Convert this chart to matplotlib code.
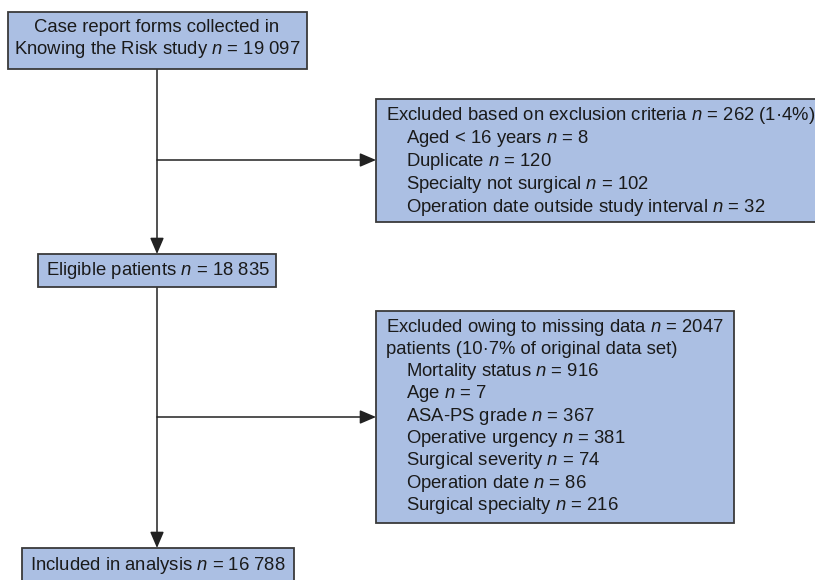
import matplotlib
matplotlib.use("Agg")
import matplotlib.pyplot as plt
from matplotlib.patches import Rectangle

plt.rcParams['font.family'] = ['Liberation Sans', 'DejaVu Sans']
plt.rcParams['mathtext.fontset'] = 'custom'
plt.rcParams['mathtext.it'] = 'Liberation Sans:italic'
plt.rcParams['mathtext.rm'] = 'Liberation Sans'

# ---- data ----
top_lines = ["Case report forms collected in", "Knowing the Risk study $n$ = 19 097"]
excl1_header = ["Excluded based on exclusion criteria $n$ = 262 (1·4%)"]
excl1_items = ["Aged < 16 years $n$ = 8", "Duplicate $n$ = 120",
               "Specialty not surgical $n$ = 102",
               "Operation date outside study interval $n$ = 32"]
eligible_text = "Eligible patients $n$ = 18 835"
excl2_header = ["Excluded owing to missing data $n$ = 2047",
                "patients (10·7% of original data set)"]
excl2_items = ["Mortality status $n$ = 916", "Age $n$ = 7", "ASA-PS grade $n$ = 367",
               "Operative urgency $n$ = 381", "Surgical severity $n$ = 74",
               "Operation date $n$ = 86", "Surgical specialty $n$ = 216"]
included_text = "Included in analysis $n$ = 16 788"

FILL = '#abbfe3'
EDGE = '#3a3a3a'
FS = 13.3

fig = plt.figure(figsize=(8.15, 5.80), dpi=100)
ax = fig.add_axes([0, 0, 1, 1])
ax.set_xlim(0, 815)
ax.set_ylim(580, 0)
ax.axis('off')

def box(x0, y0, x1, y1):
    ax.add_patch(Rectangle((x0, y0), x1 - x0, y1 - y0, facecolor=FILL,
                           edgecolor=EDGE, linewidth=1.3, zorder=2))

def arrow(x0, y0, x1, y1):
    ax.annotate('', xy=(x1, y1), xytext=(x0, y0),
                arrowprops=dict(arrowstyle='-|>,head_length=0.7,head_width=0.3',
                                color='#222222', lw=1.1,
                                mutation_scale=14, shrinkA=0, shrinkB=0), zorder=1)

# boxes
box(8, 12, 307, 69)
box(376, 99, 818, 222)
box(38, 254, 276, 287)
box(376, 311, 734, 523)
box(22, 548, 294, 584)

# connectors
arrow(157, 69, 157, 254)
arrow(157, 160, 376, 160)
arrow(157, 287, 157, 548)
arrow(157, 417, 376, 417)

# texts
for i, t in enumerate(top_lines):
    ax.text(157, 28 + i * 22, t, ha='center', va='center', fontsize=FS, color='#1a1a1a', zorder=3)

y = 115
for t in excl1_header:
    ax.text(386, y, t, ha='left', va='center', fontsize=FS, color='#1a1a1a', zorder=3)
    y += 23.2
for t in excl1_items:
    ax.text(406, y, t, ha='left', va='center', fontsize=FS, color='#1a1a1a', zorder=3)
    y += 23.2

ax.text(46, 270.5, eligible_text, ha='left', va='center', fontsize=FS, color='#1a1a1a', zorder=3)

y = 327
for t in excl2_header:
    ax.text(386, y, t, ha='left', va='center', fontsize=FS, color='#1a1a1a', zorder=3)
    y += 22.3
for t in excl2_items:
    ax.text(406, y, t, ha='left', va='center', fontsize=FS, color='#1a1a1a', zorder=3)
    y += 22.3

ax.text(30, 565, included_text, ha='left', va='center', fontsize=FS, color='#1a1a1a', zorder=3)

fig.savefig('out.png', dpi=100)
